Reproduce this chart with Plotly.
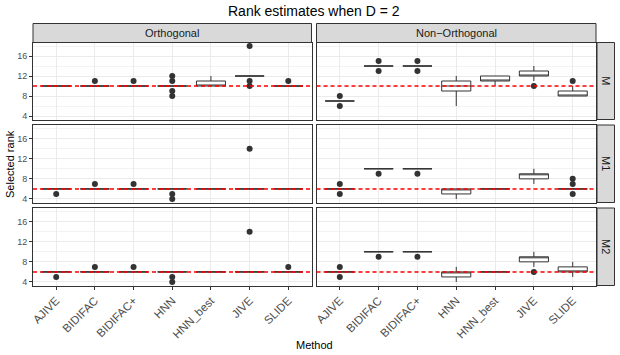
import plotly.graph_objects as go
from plotly.subplots import make_subplots

methods = ["AJIVE", "BIDIFAC", "BIDIFAC+", "HNN", "HNN_best", "JIVE", "SLIDE"]
designs = ["Orthogonal", "Non\u2212Orthogonal"]
ranks = ["M", "M1", "M2"]
true_rank = [10, 6, 6]

# box stats per method: (q1, median, q3, lower whisker, upper whisker)
stats_orth_M = [(10, 10, 10, 10, 10), (10, 10, 10, 10, 10), (10, 10, 10, 10, 10),
                (10, 10, 10, 10, 10), (10, 10, 11, 10, 12), (12, 12, 12, 12, 12),
                (10, 10, 10, 10, 10)]
stats_non_M = [(7, 7, 7, 7, 7), (14, 14, 14, 14, 14), (14, 14, 14, 14, 14),
               (9, 10, 11, 6, 12), (11, 11, 12, 10, 12), (12, 12, 13, 11, 14),
               (8, 8, 9, 8, 10)]
stats_orth_M1 = [(6, 6, 6, 6, 6)] * 7
stats_non_M1 = [(6, 6, 6, 6, 6), (10, 10, 10, 10, 10), (10, 10, 10, 10, 10),
                (5, 6, 6, 4, 6), (6, 6, 6, 6, 6), (8, 9, 9, 7, 10),
                (6, 6, 6, 6, 6)]
stats_orth_M2 = [(6, 6, 6, 6, 6)] * 7
stats_non_M2 = [(6, 6, 6, 6, 6), (10, 10, 10, 10, 10), (10, 10, 10, 10, 10),
                (5, 6, 6, 4, 7), (6, 6, 6, 6, 6), (8, 9, 9, 7, 10),
                (6, 6, 7, 5, 8)]

# outliers per method
out_orth_M = [[], [11], [11], [8, 9, 11, 12], [], [10, 11, 18], [11]]
out_non_M = [[6, 8], [13, 15], [13, 15], [], [], [10], [11]]
out_orth_M1 = [[5], [7], [7], [4, 5], [], [14], []]
out_non_M1 = [[5, 7], [9], [9], [], [], [], [5, 7, 8]]
out_orth_M2 = [[5], [7], [7], [4, 5], [], [14], [7]]
out_non_M2 = [[5, 7], [9], [9], [], [], [6], []]

panels = [
    [(stats_orth_M, out_orth_M), (stats_non_M, out_non_M)],
    [(stats_orth_M1, out_orth_M1), (stats_non_M1, out_non_M1)],
    [(stats_orth_M2, out_orth_M2), (stats_non_M2, out_non_M2)],
]

W, H = 620, 355
FONT = "Liberation Sans, Arial, sans-serif"
DARK = "#333333"


# pixel -> paper helpers (margins are zero, so paper == page)
def px(x):
    return x / W


def py(y):
    return 1 - y / H


fig = make_subplots(rows=3, cols=2)

col_px = [(33, 311.5), (316.5, 596)]
row_px = [(42.5, 119.5), (125, 202.5), (208, 285.5)]

for r in range(3):
    for c in range(2):
        stats, outs = panels[r][c]
        fig.add_trace(go.Box(
            x=methods,
            q1=[s[0] for s in stats], median=[s[1] for s in stats],
            q3=[s[2] for s in stats], lowerfence=[s[3] for s in stats],
            upperfence=[s[4] for s in stats],
            boxpoints=False, width=0.75, whiskerwidth=0,
            fillcolor="white", line=dict(color=DARK, width=1),
            showlegend=False, hoverinfo="skip",
        ), row=r + 1, col=c + 1)
        ox, oy = [], []
        for m, vals in zip(methods, outs):
            for v in vals:
                ox.append(m)
                oy.append(v)
        fig.add_trace(go.Scatter(
            x=ox, y=oy, mode="markers",
            marker=dict(color=DARK, size=6),
            showlegend=False, hoverinfo="skip",
        ), row=r + 1, col=c + 1)

        idx = r * 2 + c + 1
        sfx = "" if idx == 1 else str(idx)
        fig.add_shape(type="line", xref=f"x{sfx} domain", yref=f"y{sfx}",
                      x0=0, x1=1, y0=true_rank[r], y1=true_rank[r],
                      line=dict(color="red", width=1.5, dash="4px,3px"),
                      layer="above")

        x0, x1 = col_px[c]
        y0, y1 = row_px[r]
        fig.update_xaxes(
            domain=[px(x0), px(x1)], range=[-0.6, 6.6], automargin=False,
            categoryorder="array", categoryarray=methods,
            showgrid=True, gridcolor="#EBEBEB", gridwidth=1,
            showline=True, mirror=True, linecolor=DARK, linewidth=1,
            zeroline=False, showticklabels=(r == 2),
            ticks="outside" if r == 2 else "", ticklen=3, tickcolor=DARK,
            tickangle=-45, tickfont=dict(size=11.5, color="#4D4D4D", family=FONT),
            row=r + 1, col=c + 1)
        fig.update_yaxes(
            domain=[py(y1), py(y0)], range=[3.3, 18.7], automargin=False,
            tick0=4, dtick=4,
            showgrid=True, gridcolor="#EBEBEB", gridwidth=1,
            minor=dict(dtick=2, showgrid=True, gridcolor="#F3F3F3", gridwidth=0.6),
            showline=True, mirror=True, linecolor=DARK, linewidth=1,
            zeroline=False, showticklabels=(c == 0),
            ticks="outside" if c == 0 else "", ticklen=3, tickcolor=DARK,
            tickfont=dict(size=9, color="#4D4D4D", family=FONT),
            row=r + 1, col=c + 1)

# strips
for c, name in enumerate(designs):
    x0, x1 = col_px[c]
    fig.add_shape(type="rect", xref="paper", yref="paper",
                  x0=px(x0), x1=px(x1), y0=py(42.5), y1=py(23.5),
                  fillcolor="#D9D9D9", line=dict(color=DARK, width=1))
    fig.add_annotation(x=px((x0 + x1) / 2), y=py(33), xref="paper", yref="paper",
                       xanchor="center", yanchor="middle",
                       text=name, showarrow=False,
                       font=dict(size=11, color="#1A1A1A", family=FONT))
for r, name in enumerate(ranks):
    y0, y1 = row_px[r]
    fig.add_shape(type="rect", xref="paper", yref="paper",
                  x0=px(597), x1=px(614.5), y0=py(y1), y1=py(y0),
                  fillcolor="#D9D9D9", line=dict(color=DARK, width=1))
    fig.add_annotation(x=px(605.75), y=py((y0 + y1) / 2), xref="paper", yref="paper",
                       xanchor="center", yanchor="middle",
                       text=name, showarrow=False, textangle=90,
                       font=dict(size=11, color="#1A1A1A", family=FONT))

fig.add_annotation(x=px(314), y=py(11), xref="paper", yref="paper",
                   xanchor="center", yanchor="middle",
                   text="Rank estimates when D = 2", showarrow=False,
                   font=dict(size=14, color="black", family=FONT))
fig.add_annotation(x=px(10), y=py(164), xref="paper", yref="paper",
                   xanchor="center", yanchor="middle",
                   text="Selected rank", showarrow=False, textangle=-90,
                   font=dict(size=11, color="black", family=FONT))
fig.add_annotation(x=px(314), y=py(345), xref="paper", yref="paper",
                   xanchor="center", yanchor="middle",
                   text="Method", showarrow=False,
                   font=dict(size=11, color="black", family=FONT))

fig.update_layout(
    width=W, height=H,
    margin=dict(l=0, r=0, t=0, b=0),
    paper_bgcolor="white", plot_bgcolor="white",
    font=dict(family=FONT),
)

# the page body has a default 8px margin; drop it so the figure sits at 0,0
fig.write_html("out.html", config={"displayModeBar": False},
               post_script="document.body.style.margin = '0';")
